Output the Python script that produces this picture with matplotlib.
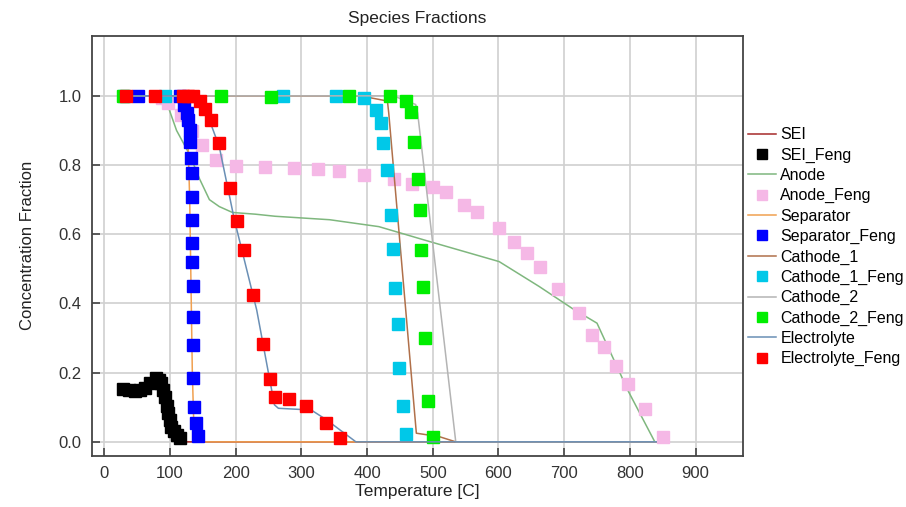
import numpy as np
import matplotlib
matplotlib.use("Agg")
import matplotlib.pyplot as plt

plt.rcParams['font.family'] = ['Liberation Sans', 'DejaVu Sans']

# model curves (lines)
sei_T = [25, 60, 80, 90, 100, 115, 125, 840]
sei_y = [0.15, 0.15, 0.17, 0.12, 0.05, 0.01, 0.0, 0.0]

anode_T = [25, 90, 97, 110, 130, 145, 160, 175, 195, 230, 260, 343, 418, 495, 601, 662, 712, 750, 798, 838, 840]
anode_y = [1.0, 1.0, 0.97, 0.90, 0.83, 0.76, 0.70, 0.68, 0.663, 0.658, 0.652, 0.642, 0.622, 0.579, 0.521, 0.449, 0.386, 0.343, 0.145, 0.0, 0.0]

sep_T = [25, 115, 122, 127, 130, 132, 134, 137, 840]
sep_y = [1.0, 1.0, 0.98, 0.90, 0.70, 0.45, 0.20, 0.0, 0.0]

cat1_T = [25, 390, 431, 433, 475, 510, 535, 840]
cat1_y = [1.0, 1.0, 0.985, 0.95, 0.025, 0.015, 0.0, 0.0]

cat2_T = [25, 440, 474, 477, 535, 840]
cat2_y = [1.0, 1.0, 0.975, 0.95, 0.0, 0.0]

elec_T = [25, 140, 150, 160, 175, 198, 232, 249, 259, 265, 315, 338, 383, 840]
elec_y = [1.0, 1.0, 0.985, 0.93, 0.853, 0.642, 0.381, 0.208, 0.107, 0.097, 0.092, 0.064, 0.0, 0.0]

# Feng data (squares)
sei_f_T = [28, 37, 46, 54, 62, 70, 79, 84, 87, 90, 92, 95, 97, 100, 102, 106, 110, 115]
sei_f_y = [0.152, 0.150, 0.148, 0.150, 0.156, 0.170, 0.185, 0.180, 0.170, 0.150, 0.131, 0.105, 0.084, 0.062, 0.044, 0.030, 0.020, 0.012]

anode_f_T = [88, 97, 117, 134, 149, 170, 200, 245, 289, 325, 357, 395, 441, 469, 500, 520, 548, 568,
             601, 624, 644, 663, 691, 722, 743, 761, 779, 797, 823, 850]
anode_f_y = [0.995, 0.979, 0.945, 0.897, 0.858, 0.815, 0.798, 0.794, 0.791, 0.788, 0.784, 0.772, 0.759, 0.746,
             0.738, 0.721, 0.685, 0.663, 0.618, 0.579, 0.545, 0.506, 0.441, 0.372, 0.309, 0.273, 0.220, 0.168, 0.094, 0.014]

sep_f_T = [51, 115, 122, 126, 128, 130, 131, 132, 133, 133, 133, 134, 134, 135, 135, 135, 135, 137, 139, 142]
sep_f_y = [1.0, 1.0, 0.975, 0.95, 0.93, 0.90, 0.868, 0.82, 0.777, 0.709, 0.642, 0.574, 0.521, 0.449, 0.362,
           0.28, 0.184, 0.102, 0.054, 0.017]

cat1_f_T = [30, 92, 272, 353, 396, 413, 421, 425, 430, 436, 440, 443, 447, 449, 454, 460]
cat1_f_y = [1.0, 1.0, 1.0, 1.0, 0.993, 0.96, 0.921, 0.865, 0.786, 0.656, 0.557, 0.444, 0.340, 0.213, 0.104, 0.023]

cat2_f_T = [28, 177, 253, 372, 435, 459, 467, 472, 477, 481, 482, 485, 488, 493, 500]
cat2_f_y = [1.0, 1.0, 0.998, 1.0, 1.0, 0.986, 0.952, 0.868, 0.759, 0.671, 0.555, 0.447, 0.30, 0.119, 0.014]

elec_f_T = [33, 77, 120, 128, 135, 145, 153, 163, 175, 191, 202, 213, 227, 241, 252, 260, 281, 307, 337, 359]
elec_f_y = [1.0, 1.0, 1.0, 1.0, 1.0, 0.986, 0.962, 0.931, 0.863, 0.733, 0.637, 0.555, 0.425, 0.283, 0.181,
            0.129, 0.123, 0.104, 0.054, 0.011]

fig = plt.figure(figsize=(9.06, 5.07), dpi=100)
ax = fig.add_axes([0.1012, 0.1012, 0.7185, 0.8278])

lw = 1.1
ms = 8.5
ax.plot(sei_T, sei_y, color='#a52a2a', lw=lw, label='SEI')
ax.plot(sei_f_T, sei_f_y, 's', color='black', ms=ms, label='SEI_Feng')
ax.plot(anode_T, anode_y, color='#7fb77e', lw=lw, label='Anode')
ax.plot(anode_f_T, anode_f_y, 's', color='#f5b8e6', ms=ms, label='Anode_Feng')
ax.plot(sep_T, sep_y, color='#f0a050', lw=lw, label='Separator')
ax.plot(sep_f_T, sep_f_y, 's', color='#0000ff', ms=ms, label='Separator_Feng')
ax.plot(cat1_T, cat1_y, color='#b0704a', lw=lw, label='Cathode_1')
ax.plot(cat1_f_T, cat1_f_y, 's', color='#00c8e8', ms=ms, label='Cathode_1_Feng')
ax.plot(cat2_T, cat2_y, color='#b4b4b4', lw=lw, label='Cathode_2')
ax.plot(cat2_f_T, cat2_f_y, 's', color='#00ee00', ms=ms, label='Cathode_2_Feng')
ax.plot(elec_T, elec_y, color='#6a8fb5', lw=lw, label='Electrolyte')
ax.plot(elec_f_T, elec_f_y, 's', color='#ff0000', ms=ms, label='Electrolyte_Feng')

ax.set_xlim(-19.2, 971.7)
ax.set_ylim(-0.04, 1.173)
ax.set_xticks(np.arange(0, 901, 100))
ax.set_yticks(np.arange(0, 1.01, 0.2))
ax.yaxis.set_major_formatter(matplotlib.ticker.FormatStrFormatter('%.1f'))
ax.grid(True, color='#d0d0d0', lw=1.2)
ax.set_axisbelow(True)
for s in ax.spines.values():
    s.set_color('#444444')
    s.set_linewidth(1.3)
ax.tick_params(direction='in', length=6, width=1.2, color='#444444',
               labelsize=12, labelcolor='#333333', pad=7.5)

ax.set_title('Species Fractions', fontsize=12.5, color='#222222', pad=9)
ax.set_xlabel('Temperature [C]', fontsize=12.5, color='#222222', labelpad=2)
ax.set_ylabel('Concentration Fraction', fontsize=12, color='#222222', labelpad=17)

fig.legend(loc='center left', bbox_to_anchor=(0.826, 0.513), frameon=False,
           fontsize=11.5, labelspacing=0.33, handlelength=1.7, handletextpad=0.3,
           borderpad=0, borderaxespad=0, markerscale=0.85)

fig.savefig('out.png', dpi=100)
